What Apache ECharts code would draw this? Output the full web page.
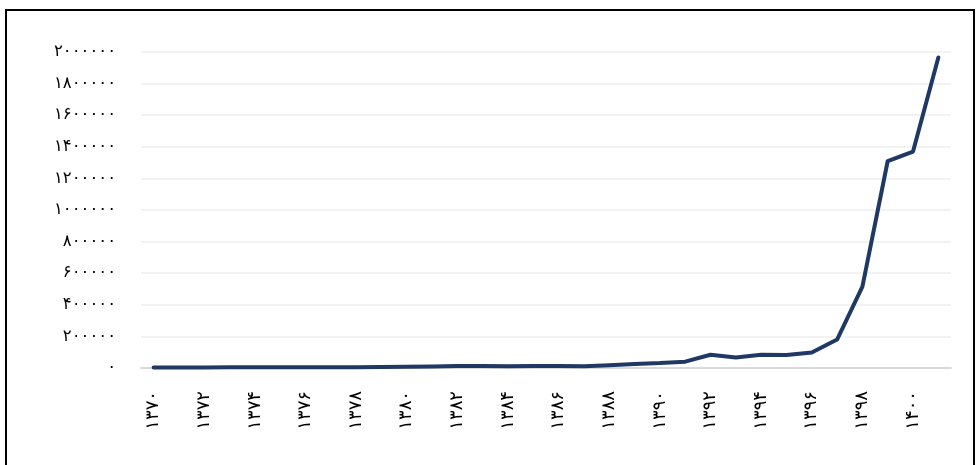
<!DOCTYPE html>
<html>
<head>
<meta charset="utf-8">
<script src="https://cdn.jsdelivr.net/npm/echarts@6/dist/echarts.min.js"></script>
<style>
html,body{margin:0;padding:0;background:#fff;}
#frame{position:absolute;left:5px;top:9px;width:970px;height:470px;border:2px solid #000;box-sizing:border-box;}
#c{position:absolute;left:0;top:0;width:980px;height:465px;}
</style>
</head>
<body>
<div id="frame"></div>
<div id="c"></div>
<script>
const years = [1370,1371,1372,1373,1374,1375,1376,1377,1378,1379,1380,1381,1382,1383,1384,1385,1386,1387,1388,1389,1390,1391,1392,1393,1394,1395,1396,1397,1398,1399,1400,1401];
const values = [3000,3000,3500,4000,4000,4500,5000,5000,5500,6000,8000,10000,13000,13000,11000,12000,12000,11000,17000,26000,31000,40000,84000,66000,84000,82000,98000,180000,515000,1310000,1370000,1965000];
const yTicks = {min:0, max:2000000, interval:200000};

const fa = s => String(s).replace(/[0-9]/g, d => '۰۱۲۳۴۵۶۷۸۹'[+d]);

const chart = echarts.init(document.getElementById('c'));
chart.setOption({
  animation:false,
  backgroundColor:'transparent',
  grid:{left:141, right:29, top:52, bottom:97, containLabel:false},
  xAxis:{
    type:'category',
    boundaryGap:true,
    data: years.map(String),
    axisLine:{lineStyle:{color:'#d9d9d9', width:2}},
    axisTick:{show:false},
    axisLabel:{interval:1, rotate:90, margin:23, fontFamily:'DejaVu Sans', fontSize:18, color:'#000', formatter:v=>fa(v)}
  },
  yAxis:{
    type:'value',
    min:yTicks.min, max:yTicks.max, interval:yTicks.interval,
    axisLine:{show:false},
    axisTick:{show:false},
    splitLine:{lineStyle:{color:'#eeeeee', width:1.5}},
    axisLabel:{margin:25, fontFamily:'DejaVu Sans', fontSize:16.5, color:'#000', formatter:v=>fa(v)}
  },
  series:[{
    type:'line',
    data: values,
    symbol:'none',
    lineStyle:{color:'#203864', width:4, join:'round', cap:'round'}
  }]
});
</script>
</body>
</html>
